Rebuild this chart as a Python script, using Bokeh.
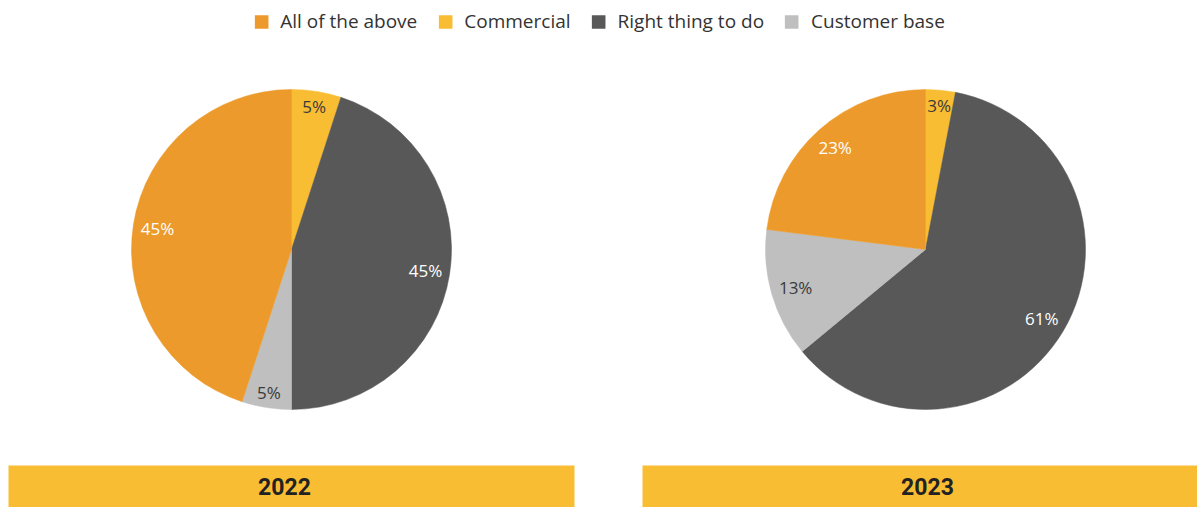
import numpy as np
from bokeh.plotting import figure
from bokeh.models import Range1d, Legend, LegendItem, ColumnDataSource
from bokeh.core.properties import value
from bokeh.embed import file_html
from bokeh.resources import INLINE

# ---- data ----
categories = ["Commercial", "Right thing to do", "Customer base", "All of the above"]
legend_order = ["All of the above", "Commercial", "Right thing to do", "Customer base"]
years = ["2022", "2023"]
values_2022 = [5, 45, 5, 45]
values_2023 = [3, 61, 13, 23]

colors = {
    "All of the above": "#EC9A2B",
    "Commercial": "#F9BD33",
    "Right thing to do": "#585858",
    "Customer base": "#BFBFBF",
}
label_colors = {
    "All of the above": "#FFFFFF",
    "Commercial": "#3A3A3A",
    "Right thing to do": "#FFFFFF",
    "Customer base": "#3A3A3A",
}

# ---- layout ----
W, H = 1197, 507
R = 160
centers_x = [291, 925]
center_y = H - 249
banner_left = [8, 642]
banner_w = 566
banner_text_x = [284, 927]
banner_bottom = 0
banner_top = H - 465
FONT = "Open Sans"

p = figure(width=W, height=H, x_range=Range1d(0, W), y_range=Range1d(0, H),
           output_backend="svg", toolbar_location=None, min_border=0,
           x_axis_location=None, y_axis_location=None)
p.grid.visible = False
p.outline_line_color = None
p.background_fill_color = "white"
p.border_fill_color = "white"

for yi, vals in enumerate([values_2022, values_2023]):
    v = np.array(vals, dtype=float)
    frac = v / v.sum()
    cum = np.concatenate([[0], np.cumsum(frac)])
    start = np.pi / 2 - 2 * np.pi * cum[:-1]
    end = np.pi / 2 - 2 * np.pi * cum[1:]
    src = ColumnDataSource(dict(
        start=start, end=end,
        color=[colors[c] for c in categories],
        x=[centers_x[yi]] * len(categories),
        y=[center_y] * len(categories),
    ))
    p.wedge(x="x", y="y", radius=R, start_angle="start", end_angle="end",
            direction="clock", fill_color="color", line_color="color",
            line_width=0.5, source=src)

    # labels
    mid = 2 * np.pi * (cum[:-1] + cum[1:]) / 2
    texts = [f"{int(round(x))}%" for x in vals]
    lx, ly = [], []
    for t, m in zip(texts, mid):
        s, c = np.sin(m), np.cos(m)
        w = 11.5 * len(t)
        h = 16
        r = R - 6 - (w / 2) * abs(s) - (h / 2) * abs(c)
        lx.append(centers_x[yi] + r * s)
        ly.append(center_y + r * c)
    lsrc = ColumnDataSource(dict(x=lx, y=ly, text=texts,
                                 color=[label_colors[c] for c in categories]))
    p.text(x="x", y="y", text="text", source=lsrc, text_color="color",
           text_align="center", text_baseline="middle",
           text_font=value(FONT), text_font_size="17px")

# banners
bsrc = ColumnDataSource(dict(
    left=banner_left, right=[b + banner_w for b in banner_left],
    bottom=[banner_bottom] * 2, top=[banner_top] * 2,
    cx=banner_text_x,
    cy=[(banner_bottom + banner_top) / 2] * 2,
    text=years,
))
p.quad(left="left", right="right", bottom="bottom", top="top", source=bsrc,
       fill_color="#F9BD33", line_color=None)
p.text(x="cx", y="cy", text="text", source=bsrc, text_align="center",
       text_baseline="middle", text_font=value("Roboto"), text_font_style="bold",
       text_font_size="23px", text_color="#222222")

# legend
items = []
for c in legend_order:
    r = p.rect(x=[np.nan], y=[np.nan], width=1, height=1,
               fill_color=colors[c], line_color=None)
    items.append(LegendItem(label=c, renderers=[r]))
legend = Legend(items=items, orientation="horizontal", location="top_center",
                border_line_color=None, background_fill_alpha=0,
                label_text_font=FONT, label_text_font_size="19px",
                label_text_color="#333333", glyph_width=17, glyph_height=17,
                label_standoff=11, spacing=19, margin=8, padding=4,
                label_height=20)
p.add_layout(legend, "center")

open("out.html", "w").write(file_html(p, INLINE))
